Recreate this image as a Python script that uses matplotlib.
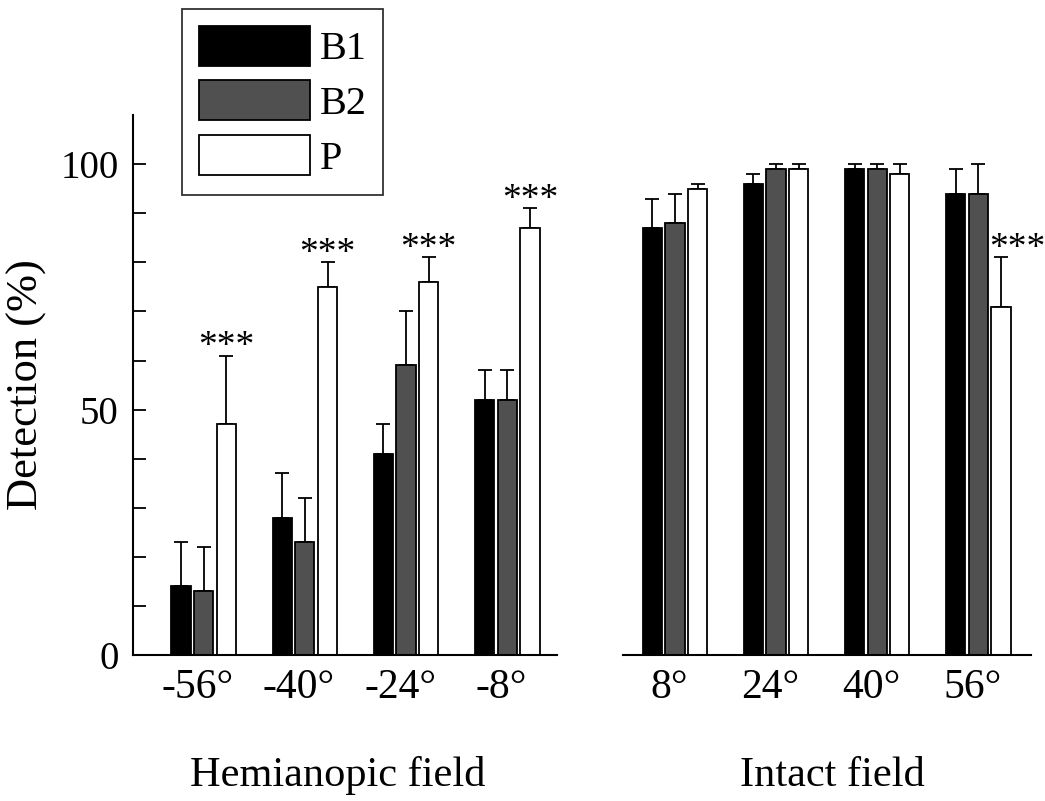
import matplotlib.pyplot as plt
from matplotlib.patches import Patch
import numpy as np

plt.rcParams['font.family'] = ['Liberation Serif', 'DejaVu Serif']

# Detection rates (%) and upper SEM for each condition
series = ['B1', 'B2', 'P']
colors = ['#000000', '#505050', '#ffffff']

hemi_labels = ['-56°', '-40°', '-24°', '-8°']
hemi_b1 = [14, 28, 41, 52]
hemi_b1_err = [9, 9, 6, 6]
hemi_b2 = [13, 23, 59, 52]
hemi_b2_err = [9, 9, 11, 6]
hemi_p = [47, 75, 76, 87]
hemi_p_err = [14, 5, 5, 4]
hemi_sig = ['***', '***', '***', '***']

intact_labels = ['8°', '24°', '40°', '56°']
intact_b1 = [87, 96, 99, 94]
intact_b1_err = [6, 2, 1, 5]
intact_b2 = [88, 99, 99, 94]
intact_b2_err = [6, 1, 1, 6]
intact_p = [95, 99, 98, 71]
intact_p_err = [1, 1, 2, 10]
intact_sig = ['', '', '', '***']

width = 0.19
pitch = 0.224

fig = plt.figure(figsize=(10.45, 8.01), dpi=100)
ax1 = fig.add_axes([0.127, 0.1823, 0.406, 0.674])
ax2 = fig.add_axes([0.5965, 0.1823, 0.39, 0.674])


def draw_panel(ax, labels, vals, errs, sig, star_ha='center'):
    x = np.arange(len(labels))
    for i, (v, e, c) in enumerate(zip(vals, errs, colors)):
        xs = x + (i - 1) * pitch
        ax.bar(xs, v, width, color=c, edgecolor='black', linewidth=1.3, zorder=2)
        ax.errorbar(xs, v, yerr=[np.zeros(len(e)), e], fmt='none', ecolor='black',
                    elinewidth=1.3, capsize=5.3, capthick=1.3, zorder=1)
    # significance stars above P bars
    xp = x + pitch
    for xi, v, e, s in zip(xp, vals[2], errs[2], sig):
        if not s:
            continue
        tx = xi if star_ha == 'center' else xi - width / 2 - 0.02
        ax.text(tx, v + e - 1.8, s, ha=star_ha, va='bottom', fontsize=27)
    ax.set_xticks(x - 0.06)
    ax.set_xticklabels(labels, fontsize=30)
    ax.tick_params(axis='x', length=0, pad=10)
    ax.set_ylim(0, 110)
    for sp in ['top', 'right']:
        ax.spines[sp].set_visible(False)
    ax.spines['bottom'].set_linewidth(1.5)
    ax.patch.set_alpha(0)


draw_panel(ax1, hemi_labels, [hemi_b1, hemi_b2, hemi_p],
           [hemi_b1_err, hemi_b2_err, hemi_p_err], hemi_sig)
draw_panel(ax2, intact_labels, [intact_b1, intact_b2, intact_p],
           [intact_b1_err, intact_b2_err, intact_p_err], intact_sig, star_ha='left')

ax1.set_xlim(-0.70, 3.49)
ax2.set_xlim(-0.51, 3.52)

ax1.spines['left'].set_linewidth(1.5)
ax1.set_yticks(np.arange(0, 101, 10))
ax1.set_yticklabels(['0', '', '', '', '', '50', '', '', '', '', '100'], fontsize=28)
ax1.tick_params(axis='y', which='both', direction='in', length=9, width=1.3, pad=10)
ax1.set_ylabel('Detection (%)', fontsize=32, labelpad=10)

ax2.spines['left'].set_visible(False)
ax2.set_yticks([])

fig.text(0.3235, 0.032, 'Hemianopic field', ha='center', va='center', fontsize=30.5)
fig.text(0.797, 0.032, 'Intact field', ha='center', va='center', fontsize=30.5)

handles = [Patch(facecolor=c, edgecolor='black', linewidth=1.3) for c in colors]
leg = fig.legend(handles, series, loc='upper left', bbox_to_anchor=(0.174, 0.989),
                 fontsize=29, frameon=True, fancybox=False, edgecolor='black',
                 handlelength=2.75, handleheight=1.15, labelspacing=0.3,
                 handletextpad=0.25, borderpad=0.42, borderaxespad=0)
leg.get_frame().set_linewidth(1.3)

fig.savefig('out.png', dpi=100)
